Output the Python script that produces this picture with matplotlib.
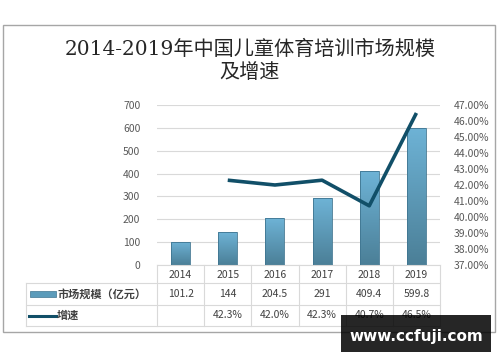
import matplotlib
matplotlib.use("Agg")
import matplotlib.pyplot as plt
import numpy as np
from matplotlib.patches import Rectangle
from matplotlib.lines import Line2D
import matplotlib.transforms as mtransforms
from matplotlib.colors import LinearSegmentedColormap

plt.rcParams['font.family'] = ['Noto Sans CJK SC', 'DejaVu Sans']

years = ['2014', '2015', '2016', '2017', '2018', '2019']
market = [101.2, 144, 204.5, 291, 409.4, 599.8]
market_labels = ['101.2', '144', '204.5', '291', '409.4', '599.8']
growth = [None, 42.3, 42.0, 42.3, 40.7, 46.5]
growth_labels = ['', '42.3%', '42.0%', '42.3%', '40.7%', '46.5%']
left_ticks = [0, 100, 200, 300, 400, 500, 600, 700]
right_ticks = [37, 38, 39, 40, 41, 42, 43, 44, 45, 46, 47]
title = '2014-2019年中国儿童体育培训市场规模\n及增速'
series_names = ['市场规模（亿元）', '增速']

W, H = 500, 362
fig = plt.figure(figsize=(5, 3.62), dpi=100)

def fx(px):
    return px / W

def fy(py):
    return 1 - py / H

# outer frame
fig.patches.append(Rectangle((fx(3), fy(332)), fx(495) - fx(3), fy(25) - fy(332),
                             transform=fig.transFigure, fill=False, edgecolor='#a6a6a6', lw=1))

fig.text(0.5, fy(61), title, ha='center', va='center', fontsize=14.5, color='#262626',
         linespacing=1.25, family=['DejaVu Serif', 'Noto Sans CJK SC'])

x0, x1, ytop, ybot = 157, 440, 105, 265
ax = fig.add_axes([fx(x0), fy(ybot), fx(x1) - fx(x0), fy(ytop) - fy(ybot)])
ax.set_xlim(-0.5, 5.5)
ax.set_ylim(0, 700)
ax.set_yticks(left_ticks)
ax.set_yticklabels([str(t) for t in left_ticks], fontsize=7.5, color='#595959')
ax.tick_params(axis='y', length=0, pad=12)
ax.set_xticks([])
for s in ['top', 'right', 'left']:
    ax.spines[s].set_visible(False)
ax.spines['bottom'].set_color('#d9d9d9')
ax.grid(axis='y', color='#d9d9d9', lw=0.8)
ax.set_axisbelow(True)

# gradient bars
bw = 0.4
grad = np.linspace(0, 1, 256).reshape(-1, 1)
cmap = LinearSegmentedColormap.from_list('b', ['#4b7f97', '#6eb3d6'])
bars = ax.bar(range(len(years)), market, width=bw, color='none', edgecolor='#3f7590', lw=0.6, zorder=3)
for b in bars:
    xb, wb, hb = b.get_x(), b.get_width(), b.get_height()
    im = ax.imshow(grad, extent=[xb, xb + wb, 0, hb], origin='lower', cmap=cmap,
                   aspect='auto', zorder=2)
    im.set_clip_path(b)
ax.set_xlim(-0.5, 5.5)
ax.set_ylim(0, 700)

ax2 = ax.twinx()
ax2.set_ylim(37, 47)
ax2.set_yticks(right_ticks)
ax2.set_yticklabels([f'{t:.2f}%' for t in right_ticks], fontsize=7.5, color='#595959')
ax2.tick_params(axis='y', length=0, pad=10)
for s in ['top', 'right', 'left', 'bottom']:
    ax2.spines[s].set_visible(False)
gx = [i for i, g in enumerate(growth) if g is not None]
gy = [g for g in growth if g is not None]
ax2.plot(gx, gy, color='#114f68', lw=2.6, zorder=5, solid_capstyle='butt')

# data table
trans = mtransforms.blended_transform_factory(ax.transData, fig.transFigure)
gc = '#d9d9d9'
r0, r1, r2, r3 = 265, 283, 305, 326
for i in range(len(years) + 1):
    xb = i - 0.5
    fig.lines.append(Line2D([xb, xb], [fy(r0), fy(r3)], transform=trans, color=gc, lw=0.8))
for r in [r1, r2, r3]:
    fig.lines.append(Line2D([fx(26), fx(x1)], [fy(r), fy(r)], transform=fig.transFigure, color=gc, lw=0.8))
fig.lines.append(Line2D([fx(26), fx(26)], [fy(r1), fy(r3)], transform=fig.transFigure, color=gc, lw=0.8))

for i, yr in enumerate(years):
    fig.text(i, fy(274.5), yr, transform=trans, ha='center', va='center', fontsize=7.5, color='#404040')
    fig.text(i, fy(294), market_labels[i], transform=trans, ha='center', va='center', fontsize=7.5, color='#404040')
    fig.text(i, fy(315.5), growth_labels[i], transform=trans, ha='center', va='center', fontsize=7.5, color='#404040')

# legend keys
fig.patches.append(Rectangle((fx(30), fy(297)), fx(26), fy(291) - fy(297), transform=fig.transFigure,
                             facecolor='#5b9bba', edgecolor='#3f7590', lw=0.5))
fig.text(fx(57), fy(294), series_names[0], ha='left', va='center', fontsize=8, color='#404040', weight='bold')
fig.lines.append(Line2D([fx(29), fx(56)], [fy(315.5), fy(315.5)], transform=fig.transFigure,
                        color='#114f68', lw=2.2))
fig.text(fx(57), fy(315.5), series_names[1], ha='left', va='center', fontsize=8, color='#404040', weight='bold')

# watermark
fig.patches.append(Rectangle((fx(341), fy(352)), fx(150), fy(315) - fy(352), transform=fig.transFigure,
                             facecolor='#000000', edgecolor='none', alpha=0.85, zorder=10))
fig.text(fx(416), fy(337), 'www.ccfuji.com', ha='center', va='center', fontsize=11, color='white',
         weight='bold', zorder=11, family='DejaVu Sans')

fig.savefig('out.png', dpi=100)
